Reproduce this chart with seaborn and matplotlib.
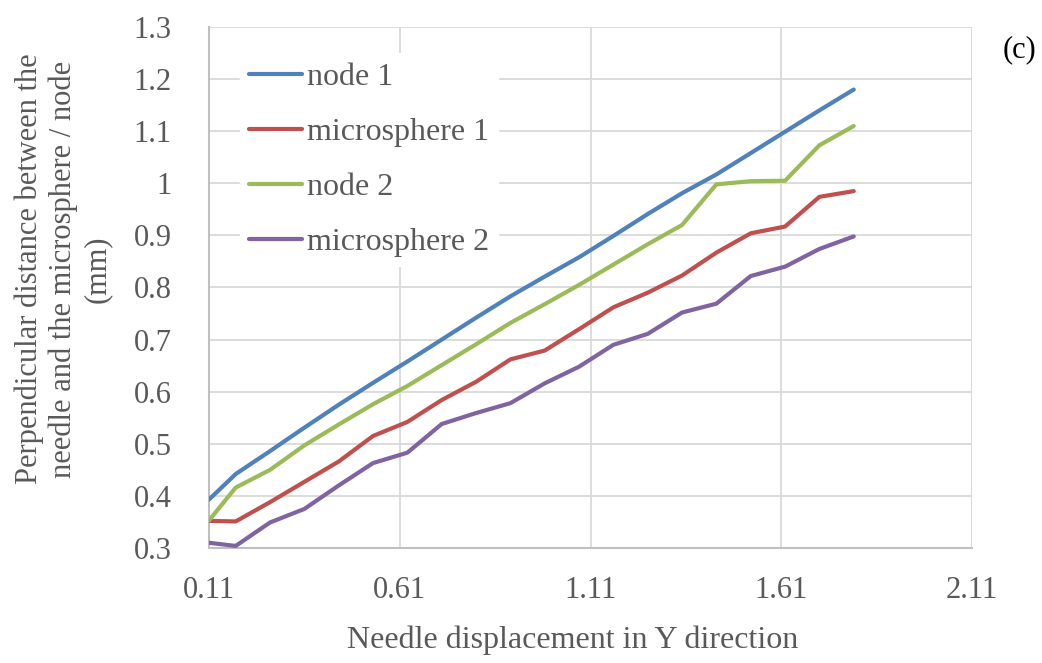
import seaborn as sns
import matplotlib.pyplot as plt
import pandas as pd
from matplotlib.ticker import FormatStrFormatter, FuncFormatter

# needle displacement (x) and the four distance series
displacement = [0.11, 0.18, 0.27, 0.36, 0.45, 0.54, 0.63, 0.72, 0.81, 0.90,
                0.99, 1.08, 1.17, 1.26, 1.35, 1.44, 1.53, 1.62, 1.71, 1.80]
node1 = [0.393, 0.442, 0.486, 0.531, 0.575, 0.617, 0.658, 0.700, 0.742, 0.783,
         0.821, 0.858, 0.899, 0.941, 0.981, 1.017, 1.058, 1.099, 1.140, 1.180]
microsphere1 = [0.352, 0.351, 0.388, 0.427, 0.466, 0.515, 0.542, 0.584, 0.619, 0.662,
                0.679, 0.720, 0.762, 0.790, 0.823, 0.867, 0.904, 0.917, 0.974, 0.985]
node2 = [0.353, 0.416, 0.450, 0.497, 0.537, 0.576, 0.611, 0.651, 0.691, 0.732,
         0.768, 0.805, 0.844, 0.883, 0.920, 0.998, 1.004, 1.005, 1.073, 1.110]
microsphere2 = [0.310, 0.304, 0.349, 0.375, 0.420, 0.463, 0.483, 0.538, 0.559, 0.578,
                0.616, 0.648, 0.690, 0.711, 0.752, 0.769, 0.822, 0.840, 0.874, 0.898]

series_names = ["node 1", "microsphere 1", "node 2", "microsphere 2"]
x_ticks = [0.11, 0.61, 1.11, 1.61, 2.11]
y_ticks = [0.3, 0.4, 0.5, 0.6, 0.7, 0.8, 0.9, 1.0, 1.1, 1.2, 1.3]

colors = ["#4F81BD", "#C0504D", "#9BBB59", "#8064A2"]
grey_text = "#595959"

rows = []
for name, vals in zip(series_names, [node1, microsphere1, node2, microsphere2]):
    for x, y in zip(displacement, vals):
        rows.append({"x": x, "y": y, "series": name})
df = pd.DataFrame(rows)

sns.set_style("white")
plt.rcParams["font.family"] = ["Liberation Serif", "DejaVu Serif"]

fig = plt.figure(figsize=(10.42, 6.63), dpi=100)
ax = fig.add_axes([209 / 1042, 1 - 548 / 663, (972 - 209) / 1042, (548 - 27) / 663])

sns.lineplot(data=df, x="x", y="y", hue="series", hue_order=series_names,
             palette=colors, linewidth=3.0, ax=ax, legend=True,
             solid_capstyle="round", solid_joinstyle="round")

ax.set_xlim(0.11, 2.11)
ax.set_ylim(0.3, 1.3)
ax.set_xticks(x_ticks)
ax.set_yticks(y_ticks)
ax.xaxis.set_major_formatter(FormatStrFormatter("%.2f"))
ax.yaxis.set_major_formatter(FuncFormatter(lambda v, p: "%g" % round(v, 2)))
ax.grid(True, color="#d9d9d9", linewidth=1.3)
ax.set_axisbelow(True)
for side in ["top", "right"]:
    ax.spines[side].set_visible(False)
for side in ["left", "bottom"]:
    ax.spines[side].set_color("#bfbfbf")
    ax.spines[side].set_linewidth(1.5)
    ax.spines[side].set_zorder(1)
ax.tick_params(axis="both", length=0, labelsize=22, labelcolor=grey_text)
ax.tick_params(axis="x", pad=20)
ax.tick_params(axis="y", pad=27)
ax.set_xlabel("")
ax.set_ylabel("")

leg = ax.legend(loc="upper left", bbox_to_anchor=(0.04, 0.95), fontsize=23,
                frameon=True, framealpha=1, edgecolor="white", facecolor="white",
                handlelength=1.65, handletextpad=0.15, labelspacing=0.8,
                borderpad=0.3, borderaxespad=0)
for t in leg.get_texts():
    t.set_color(grey_text)
for h in leg.get_lines():
    h.set_linewidth(3.0)

fig.text(573 / 1042, 1 - 640 / 663, "Needle displacement in Y direction",
         ha="center", va="center", fontsize=23, color=grey_text)
fig.text(63 / 1042, 1 - 269 / 663,
         "Perpendicular distance between the\nneedle and the microsphere / node\n(mm)",
         ha="center", va="center", rotation=90, multialignment="center",
         fontsize=22, color=grey_text, linespacing=1.2)
fig.text(1020 / 1042, 1 - 50 / 663, "(c)", ha="center", va="center",
         fontsize=22, color="black")

fig.savefig("out.png", dpi=100)
